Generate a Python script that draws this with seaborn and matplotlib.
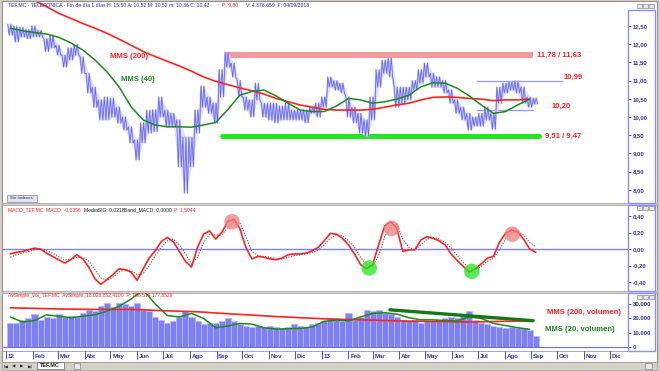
import numpy as np
import pandas as pd
import matplotlib
matplotlib.use("Agg")
import matplotlib.pyplot as plt
from matplotlib.patches import Rectangle
import seaborn as sns

# ---------------- data ----------------
week_start = "2012-01-06"
n_weeks = 88

price_high = [12.55, 12.50, 12.47, 12.40, 12.50, 12.38, 12.15, 12.25, 11.97, 11.70,
              11.90, 12.00, 11.65, 11.20, 10.82, 10.47, 10.55, 10.52, 10.27, 10.00,
              9.73, 9.37, 9.84, 10.19, 10.20, 10.55, 10.19, 10.10, 9.92, 9.45,
              9.45, 10.19, 10.85, 10.55, 10.38, 11.30, 11.78, 11.48, 11.00, 10.55,
              10.47, 10.93, 10.38, 10.38, 10.38, 10.30, 10.38, 10.19, 10.19, 10.19,
              10.27, 10.38, 10.55, 11.10, 11.00, 10.93, 10.55, 10.27, 10.10, 9.92,
              10.55, 11.30, 11.56, 11.63, 10.82, 10.82, 10.82, 11.00, 11.30, 11.48,
              11.20, 11.10, 11.00, 10.74, 10.47, 10.27, 10.10, 10.00, 10.10, 10.27,
              10.10, 10.82, 10.93, 10.97, 10.99, 10.82, 10.55, 10.52]
price_low = [12.25, 12.06, 12.20, 12.15, 12.20, 12.20, 11.80, 11.90, 11.70, 11.37,
             11.57, 11.70, 11.20, 10.66, 10.27, 9.92, 9.92, 10.00, 9.83, 9.64,
             9.29, 8.82, 9.29, 9.56, 9.60, 10.00, 9.73, 9.73, 8.63, 7.91,
             8.63, 9.56, 10.27, 10.10, 9.83, 10.55, 11.37, 11.10, 10.55, 10.19,
             10.00, 10.47, 10.00, 9.92, 9.84, 9.92, 9.92, 9.92, 9.92, 9.84,
             10.10, 10.00, 10.27, 10.82, 10.74, 10.66, 10.00, 9.84, 9.56, 9.47,
             9.92, 10.82, 11.20, 11.10, 10.27, 10.38, 10.47, 10.74, 10.93, 11.10,
             10.82, 10.82, 10.66, 10.38, 10.10, 9.92, 9.64, 9.75, 9.75, 9.92,
             9.66, 10.38, 10.66, 10.74, 10.66, 10.38, 10.27, 10.36]

# moving averages, one value every second week
mms200_price = [13.50, 13.35, 13.20, 13.03, 12.85, 12.71, 12.57, 12.44, 12.30, 12.14,
                11.97, 11.80, 11.66, 11.53, 11.40, 11.26, 11.10, 10.98, 10.89, 10.80,
                10.72, 10.63, 10.51, 10.42, 10.33, 10.27, 10.21, 10.19, 10.19, 10.19,
                10.21, 10.27, 10.33, 10.38, 10.47, 10.54, 10.55, 10.54, 10.51, 10.49,
                10.45, 10.47, 10.47, 10.49]
mms40_price = [12.44, 12.37, 12.32, 12.28, 12.19, 12.04, 11.84, 11.57, 11.24, 10.83,
               10.28, 9.92, 9.78, 9.73, 9.73, 9.72, 9.78, 9.85, 10.20, 10.60,
               10.70, 10.74, 10.58, 10.38, 10.19, 10.15, 10.15, 10.30, 10.51, 10.47,
               10.38, 10.42, 10.49, 10.60, 10.83, 10.94, 10.93, 10.79, 10.58, 10.33,
               10.10, 10.15, 10.33, 10.49]

macd_line = [-0.06, -0.04, -0.03, -0.01, 0.01, 0.00, -0.05, -0.09, -0.13, -0.17,
             -0.13, -0.07, -0.12, -0.22, -0.36, -0.43, -0.37, -0.31, -0.24, -0.25,
             -0.28, -0.38, -0.24, -0.11, -0.02, 0.09, 0.14, 0.09, -0.03, -0.15,
             -0.22, 0.02, 0.18, 0.22, 0.12, 0.20, 0.33, 0.36, 0.25, 0.02,
             -0.12, -0.09, -0.10, -0.12, -0.13, -0.11, -0.07, -0.06, -0.06, -0.05,
             -0.02, 0.02, 0.10, 0.19, 0.18, 0.13, 0.05, -0.06, -0.19, -0.24,
             -0.19, 0.05, 0.28, 0.33, 0.25, -0.03, -0.01, -0.01, 0.11, 0.15,
             0.13, 0.10, 0.05, -0.06, -0.14, -0.21, -0.28, -0.24, -0.18, -0.11,
             -0.09, 0.08, 0.19, 0.23, 0.21, 0.12, 0.00, -0.04]
macd_signal = [-0.10, -0.07, -0.05, -0.03, -0.01, 0.00, -0.02, -0.05, -0.09, -0.13,
               -0.13, -0.10, -0.10, -0.15, -0.25, -0.35, -0.38, -0.34, -0.28, -0.25,
               -0.26, -0.31, -0.30, -0.20, -0.08, 0.02, 0.10, 0.12, 0.05, -0.06,
               -0.18, -0.10, 0.08, 0.18, 0.17, 0.17, 0.26, 0.33, 0.32, 0.15,
               -0.03, -0.08, -0.09, -0.10, -0.12, -0.12, -0.10, -0.08, -0.07, -0.06,
               -0.04, -0.01, 0.05, 0.13, 0.17, 0.16, 0.10, 0.02, -0.10, -0.19,
               -0.21, -0.08, 0.15, 0.28, 0.30, 0.12, 0.02, -0.01, 0.05, 0.12,
               0.14, 0.12, 0.08, 0.01, -0.08, -0.16, -0.23, -0.25, -0.21, -0.15,
               -0.11, -0.01, 0.12, 0.20, 0.22, 0.17, 0.08, 0.03]

volume = [17000, 17000, 19000, 20000, 23000, 19000, 21000, 20000, 23000, 21000,
          22000, 21000, 24000, 26000, 25000, 29000, 31000, 28000, 31000, 30000,
          29000, 31000, 26000, 25000, 21000, 19000, 17000, 18000, 21000, 25000,
          21000, 18000, 16000, 17000, 17000, 18000, 20000, 18000, 16000, 15000,
          14000, 15000, 14000, 15000, 14000, 13000, 14000, 16000, 15000, 14000,
          16000, 17000, 18000, 20000, 19000, 18000, 24000, 19000, 21000, 26000,
          25000, 26000, 24000, 23000, 21000, 19000, 18000, 19000, 17000, 18000,
          18000, 19000, 20000, 21000, 20000, 23000, 25000, 19000, 17000, 16000,
          15000, 14000, 13000, 14000, 13000, 13000, 12000, 8000]
mms200_volume = [27400, 27200, 27000, 26800, 26600, 26500, 26400, 26300, 26300, 26300,
                 26300, 26000, 25600, 25300, 25000, 24800, 24400, 23800, 23300, 22800,
                 22300, 21800, 21300, 20900, 20500, 20100, 19700, 19500, 19200, 19000,
                 18800, 18500, 18300, 18100, 18000, 17900, 17800, 17600, 17500, 17600,
                 17800, 18000, 18100, 18200]
mms20_volume = [21000, 17500, 18500, 22500, 21500, 20500, 21500, 22500, 25000, 28500,
                33500, 40000, 30000, 22000, 21000, 23500, 20000, 13500, 14700, 16500,
                16000, 13500, 12500, 12800, 13000, 14000, 18000, 18800, 18300, 21000,
                23500, 24000, 23000, 20500, 19000, 19000, 18500, 18200, 21000, 20000,
                16500, 15000, 13500, 12400]

resist_lo, resist_hi = 11.63, 11.78
support_lo, support_hi = 9.47, 9.51
level_top, level_bottom = 10.99, 10.20
resist_span = ["2012-09-12", "2013-09-03"]
support_span = ["2012-09-07", "2013-09-10"]
top_span = ["2013-06-30", "2013-10-07"]
bottom_span = ["2013-06-30", "2013-09-03"]
vol_trend_dates = ["2013-03-21", "2013-09-03"]
vol_trend_vals = [26000, 18400]

circle_dates = ["2012-09-19", "2013-03-23", "2013-08-10", "2013-02-25", "2013-06-24"]
circle_vals = [0.33, 0.25, 0.18, -0.23, -0.27]
circle_kind = ["top", "top", "top", "bottom", "bottom"]

month_names = ["", "Feb", "Mar", "Abr", "May", "Jun", "Jul", "Ago", "Sep", "Oct", "Nov", "Dic"]
price_ticks = [8.0, 8.5, 9.0, 9.5, 10.0, 10.5, 11.0, 11.5, 12.0, 12.5]
macd_ticks = [-0.4, -0.2, 0.0, 0.2, 0.4]
vol_ticks = [0, 10000, 20000, 30000]
vol_tick_labels = ["0", "10.000", "20.000", "30.000"]

# ---------------- styling ----------------
sns.set_theme(style="white")
plt.rcParams["font.family"] = ["Liberation Sans", "DejaVu Sans"]

W, H = 660, 371
BLUE_AX = "#8c8cff"
LAB = "#3333b0"
RED = "#ff2222"
GREEN = "#1e8a1e"

weeks = pd.date_range(week_start, periods=n_weeks, freq="W-FRI")
ma_dates = weeks[::2]
xmin, xmax = pd.Timestamp("2011-12-28 12:00"), pd.Timestamp("2013-12-22")

fig = plt.figure(figsize=(W / 100, H / 100), dpi=100, facecolor="#d4d0c8")


def frect(x0, y0, x1, y1):
    return [x0 / W, 1 - y1 / H, (x1 - x0) / W, (y1 - y0) / H]


def fig_box(x0, y0, x1, y1, fc, ec, lw=0.8, z=-5):
    fig.patches.append(Rectangle((x0 / W, 1 - y1 / H), (x1 - x0) / W, (y1 - y0) / H,
                                 transform=fig.transFigure, facecolor=fc,
                                 edgecolor=ec, lw=lw, zorder=z))


# white window area (behind the axes)
fig_box(2, 1, 657, 362, "white", "#909090", 0.8, -10)
fig_box(2, 203, 657, 205, "#d4d0c8", "#a0a0a0", 0.5, -9)
fig_box(2, 291, 657, 293, "#d4d0c8", "#a0a0a0", 0.5, -9)


def style_axis(ax, ylim):
    ax.set_facecolor("none")
    ax.set_zorder(1)
    ax.set_xlim(xmin, xmax)
    ax.set_ylim(*ylim)
    for s in ax.spines.values():
        s.set_visible(False)
    ax.yaxis.set_ticks_position("right")
    ax.tick_params(axis="y", which="both", direction="out", length=2, width=0.6,
                   color=LAB, labelsize=4.3, labelcolor=LAB, pad=1.5)
    ax.set_xticks([])
    ax.grid(False)


# ---------------- price panel ----------------
ax_p = fig.add_axes(frect(3, 2, 628, 203))
style_axis(ax_p, (10 - (203 - 117) / 36.4, 10 + (117 - 2) / 36.4))
ax_p.set_yticks(price_ticks)
ax_p.set_yticklabels([f"{t:.2f}".replace(".", ",") for t in price_ticks], fontweight="bold")

ax_p.fill_between(pd.to_datetime(resist_span), resist_lo, resist_hi, color="#f59a9a", lw=0, zorder=1)
sns.lineplot(x=pd.to_datetime(support_span), y=[(support_lo + support_hi) / 2] * 2, ax=ax_p,
             color="#22e622", lw=3.6, zorder=2)
sns.lineplot(x=pd.to_datetime(top_span), y=[level_top] * 2, ax=ax_p, color="#9a9aff", lw=1.0, zorder=2)
sns.lineplot(x=pd.to_datetime(bottom_span), y=[level_bottom] * 2, ax=ax_p, color="#9a9aff", lw=1.0, zorder=2)

# dense price trace: each week's range swept high-low-high-low
offsets = [pd.Timedelta(days=d) for d in (-3.0, -1.25, 0.5, 2.25)]
zz_x = [w + o for w in weeks for o in offsets]
zz_y = [v for hi, lo in zip(price_high, price_low) for v in (hi, lo, hi, lo)]
ax_p.fill_between(weeks, price_low, price_high, color="#e2e2ff", lw=0, zorder=3)
ax_p.plot(zz_x, zz_y, color="#c4c4ff", lw=1.2, zorder=3.5)
ax_p.plot(zz_x, zz_y, color="#6464f8", lw=0.55, zorder=4)

sns.lineplot(x=ma_dates, y=mms200_price, ax=ax_p, color=RED, lw=1.2, zorder=5)
sns.lineplot(x=ma_dates, y=mms40_price, ax=ax_p, color=GREEN, lw=1.1, zorder=6)
ax_p.set_xlim(xmin, xmax)
ax_p.set_xlabel("")
ax_p.set_ylabel("")

txt = dict(fontsize=5.6, fontweight="bold", va="center", ha="left", zorder=7)
ax_p.text(pd.Timestamp("2012-04-30"), 11.65, "MMS (200)", color=RED, **txt)
ax_p.text(pd.Timestamp("2012-05-13"), 11.04, "MMS (40)", color=GREEN, **txt)
ax_p.text(pd.Timestamp("2013-09-08"), 11.70, "11,78 / 11,63", color=RED, **txt)
ax_p.text(pd.Timestamp("2013-10-08"), 11.10, "10,99", color=RED, **txt)
ax_p.text(pd.Timestamp("2013-09-24"), 10.30, "10,20", color=RED, **txt)
ax_p.text(pd.Timestamp("2013-09-17"), 9.48, "9,51 / 9,47", color=RED, **txt)

# header line
fig.text(8 / W, 1 - 5.2 / H, "TEF.MC - TELEFONICA - Fin de día 1 días H: 15:50 A: 10,52 M: 10,52 m: 10,36 C: 10,43",
         fontsize=3.7, color="#2a2a9a", va="center", ha="left")
fig.text(222 / W, 1 - 5.2 / H, "P: 9,80", fontsize=3.7, color=RED, va="center", ha="left")
fig.text(246 / W, 1 - 5.2 / H, "V: 4.376.659  F: 04/09/2013", fontsize=3.7, color="#2a2a9a",
         va="center", ha="left")

# ---------------- MACD panel ----------------
ax_m = fig.add_axes(frect(3, 205, 628, 291))
style_axis(ax_m, ((249 - 291) / 82.5, (249 - 205) / 82.5))
ax_m.set_yticks(macd_ticks)
ax_m.set_yticklabels([f"{t:.2f}".replace(".", ",").replace("-0,00", "0,00") for t in macd_ticks],
                     fontweight="bold")
ax_m.axhline(0, color="#7f7fff", lw=1.0, zorder=1)
sns.lineplot(x=weeks, y=macd_signal, ax=ax_m, color="#6a6a6a", lw=0.8, ls=(0, (1.2, 1.2)), zorder=3)
sns.lineplot(x=weeks, y=macd_line, ax=ax_m, color=RED, lw=1.2, zorder=4)
cd = pd.to_datetime(circle_dates)
ccol = ["#f07c7c" if k == "top" else "#22e622" for k in circle_kind]
ax_m.scatter(cd, circle_vals, s=125, c=ccol, alpha=0.75, lw=0, zorder=5)
ax_m.set_xlim(xmin, xmax)
ax_m.set_xlabel("")
ax_m.set_ylabel("")

ym = 1 - 209.5 / H
fig.text(8 / W, ym, "MACD_TEF.MC  MACD: -0,0356", fontsize=3.6, color=RED, va="center")
fig.text(84 / W, ym, "MediaSIG: 0,0218", fontsize=3.6, color="#202020", va="center")
fig.text(124 / W, ym, "Band_MACD: 0,0000", fontsize=3.6, color="#202020", va="center")
fig.text(174 / W, ym, "P: 1,5044", fontsize=3.6, color=RED, va="center")

# ---------------- volume panel ----------------
ax_v = fig.add_axes(frect(3, 293, 628, 351))
style_axis(ax_v, (-(351 - 347) / 14.3 * 10000, (347 - 293) / 14.3 * 10000))
ax_v.set_yticks(vol_ticks)
ax_v.set_yticklabels(vol_tick_labels, fontweight="bold")
ax_v.bar(weeks, volume, width=7.0, color="#8080f6", edgecolor="#b8b8ff", lw=0.6, zorder=2)
ax_v.axhline(0, color="#6a6af0", lw=0.8, zorder=2)
sns.lineplot(x=ma_dates, y=mms200_volume, ax=ax_v, color=RED, lw=1.2, zorder=4)
sns.lineplot(x=ma_dates, y=mms20_volume, ax=ax_v, color=GREEN, lw=1.1, zorder=5)
sns.lineplot(x=pd.to_datetime(vol_trend_dates), y=vol_trend_vals, ax=ax_v, color="#137a13", lw=2.4, zorder=6)
ax_v.set_xlim(xmin, xmax)
ax_v.set_xlabel("")
ax_v.set_ylabel("")
ax_v.text(pd.Timestamp("2013-09-19"), 23800, "MMS (200, volumen)", color=RED, **txt)
ax_v.text(pd.Timestamp("2013-09-17"), 11900, "MMS (20, volumen)", color=GREEN, **txt)
fig.text(8 / W, 1 - 295.5 / H, "AvSimple_Vol_TEF.MC  AvSimple: 18.026.852,4100  P: 158.514.177,8529",
         fontsize=3.6, color=RED, va="center")

# ---------------- date row ----------------
ax_d = fig.add_axes(frect(3, 351, 628, 361))
ax_d.set_zorder(1)
ax_d.set_xlim(xmin, xmax)
ax_d.set_ylim(0, 1)
ax_d.axis("off")
ax_d.axhline(1, color=BLUE_AX, lw=1.2)
for d in pd.date_range("2012-01-01", "2013-12-01", freq="MS"):
    lab = f"{d.year % 100:02d}" if d.month == 1 else month_names[d.month - 1]
    ax_d.vlines(d, 0.25, 1, color=LAB, lw=0.6)
    ax_d.text(d + pd.Timedelta(days=2), 0.45, lab, fontsize=4.4, fontweight="bold", color=LAB,
              va="center", ha="left")

# ---------------- frames on top ----------------
for y0, y1 in [(10, 203), (205, 291), (293, 351)]:
    fig_box(628, y0, 655, y1, "none", BLUE_AX, 1.0, 5)
for yb in [3.5, 206.5, 294.5]:
    for xb in [637, 643, 649]:
        fig_box(xb, yb, xb + 5, yb + 4, "#e8e8e8", "#707070", 0.4, 6)

# "Sin órdenes" button
fig_box(7, 195, 37, 201.5, "#e4e4f0", "#8080a0", 0.5, 5)
fig.text(22 / W, 1 - 198.3 / H, "Sin órdenes", fontsize=3.2, color="#303060", ha="center", va="center", zorder=6)

# ---------------- bottom tab bar ----------------
fig_box(2, 362, 657, 370, "#d4d0c8", "#a0a0a0", 0.5, 5)
for k, sym in enumerate(["|◀", "◀", "▶", "▶|"]):
    fig.text((6 + 8 * k) / W, 1 - 366 / H, sym, fontsize=3.2, color="#202020", ha="center", va="center",
             family=["DejaVu Sans"], zorder=7)
fig_box(37, 362, 64, 369, "white", "#606060", 0.5, 6)
fig.text(50 / W, 1 - 365.6 / H, "TEF.MC", fontsize=4.0, fontweight="bold", color="#202020",
         ha="center", va="center", zorder=7)
fig_box(74, 362.5, 80, 368.5, "#e8e8e8", "#707070", 0.4, 6)
fig_box(645, 362.5, 652, 368.5, "#e8e8e8", "#707070", 0.4, 6)

fig.savefig("out.png", dpi=100, facecolor=fig.get_facecolor())
